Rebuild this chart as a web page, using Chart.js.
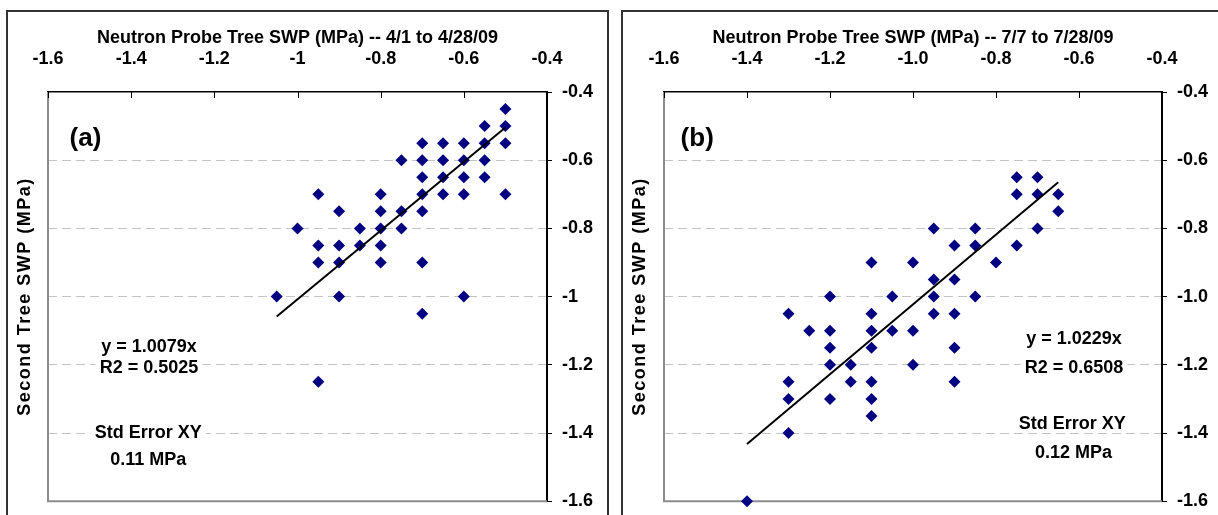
<!DOCTYPE html>
<html>
<head>
<meta charset="utf-8">
<script src="https://cdn.jsdelivr.net/npm/chart.js@4/dist/chart.umd.min.js"></script>
<style>
body{margin:0;background:#fff;width:1218px;height:515px;overflow:hidden;position:relative}
.panel{position:absolute;top:10px;height:540px;border:2px solid #333;box-sizing:border-box}
.wrap{position:absolute;top:0;height:522px}
</style>
</head>
<body>
<div class="panel" style="left:6px;width:603px"></div>
<div class="panel" style="left:621px;width:620px"></div>
<div class="wrap" style="left:0;width:610px"><canvas id="chartA"></canvas></div>
<div class="wrap" style="left:614px;width:604px"><canvas id="chartB"></canvas></div>
<script>
// panel (a): 4/1 to 4/28/09
const probeA  = [-0.5, -0.55, -0.5, -0.7, -0.65, -0.6, -0.55, -0.5, -0.75, -0.7, -0.65, -0.6, -0.55,
                 -0.7, -0.65, -0.6, -0.55, -0.95, -0.8, -0.7, -0.65, -0.6, -0.5, -0.9, -0.8, -0.75, -0.7,
                 -1.0, -0.85, -0.8, -0.75, -0.95, -0.9, -0.85, -0.8, -0.95, -0.9, -0.8, -0.7,
                 -1.05, -0.9, -0.6, -0.7, -0.95];
const secondA = [-0.45, -0.5, -0.5, -0.55, -0.55, -0.55, -0.55, -0.55, -0.6, -0.6, -0.6, -0.6, -0.6,
                 -0.65, -0.65, -0.65, -0.65, -0.7, -0.7, -0.7, -0.7, -0.7, -0.7, -0.75, -0.75, -0.75, -0.75,
                 -0.8, -0.8, -0.8, -0.8, -0.85, -0.85, -0.85, -0.85, -0.9, -0.9, -0.9, -0.9,
                 -1.0, -1.0, -1.0, -1.05, -1.25];
const slopeA = 1.0079;
const fitRangeA = [-1.05, -0.5];
const xTicksA = ['-1.6', '-1.4', '-1.2', '-1', '-0.8', '-0.6', '-0.4'];
const yTicksA = ['-1.6', '-1.4', '-1.2', '-1', '-0.8', '-0.6', '-0.4'];

// panel (b): 7/7 to 7/28/09
const probeB  = [-0.75, -0.7, -0.75, -0.7, -0.65, -0.65, -0.95, -0.85, -0.7, -0.9, -0.85, -0.75,
                 -1.1, -1.0, -0.8, -0.95, -0.9, -1.2, -1.05, -0.95, -0.85, -1.3, -1.1, -0.95, -0.9,
                 -1.25, -1.2, -1.1, -1.05, -1.0, -1.2, -1.1, -0.9, -1.2, -1.15, -1.0,
                 -1.3, -1.15, -1.1, -0.9, -1.3, -1.2, -1.1, -1.1, -1.3, -1.4];
const secondB = [-0.65, -0.65, -0.7, -0.7, -0.7, -0.75, -0.8, -0.8, -0.8, -0.85, -0.85, -0.85,
                 -0.9, -0.9, -0.9, -0.95, -0.95, -1.0, -1.0, -1.0, -1.0, -1.05, -1.05, -1.05, -1.05,
                 -1.1, -1.1, -1.1, -1.1, -1.1, -1.15, -1.15, -1.15, -1.2, -1.2, -1.2,
                 -1.25, -1.25, -1.25, -1.25, -1.3, -1.3, -1.3, -1.35, -1.4, -1.6];
const slopeB = 1.0229;
const fitRangeB = [-1.4, -0.65];
const xTicksB = ['-1.6', '-1.4', '-1.2', '-1.0', '-0.8', '-0.6', '-0.4'];
const yTicksB = ['-1.6', '-1.4', '-1.2', '-1.0', '-0.8', '-0.6', '-0.4'];

const FONT = '"Liberation Sans", Arial, sans-serif';
Chart.defaults.font.family = FONT;
Chart.defaults.font.size = 18;
Chart.defaults.font.weight = 'bold';
Chart.defaults.color = '#000';

function decor(p) {
    return {
        id: 'decor',
        beforeDatasetsDraw(chart) {
            const {ctx, chartArea: a, scales: {x}} = chart;
            ctx.save();
            // gris a la izquierda y abajo
            ctx.strokeStyle = '#8c8c8c';
            ctx.lineWidth = 2;
            ctx.beginPath();
            ctx.moveTo(a.left, a.top);
            ctx.lineTo(a.left, a.bottom);
            ctx.lineTo(a.right, a.bottom);
            ctx.stroke();
            // marcas hacia dentro del eje superior
            ctx.strokeStyle = '#000';
            ctx.lineWidth = 1;
            x.ticks.forEach(t => {
                const px = Math.round(x.getPixelForValue(t.value)) + 0.5;
                ctx.beginPath();
                ctx.moveTo(px, a.top);
                ctx.lineTo(px, a.top + 6);
                ctx.stroke();
            });
            ctx.restore();
        },
        afterDraw(chart) {
            const {ctx, chartArea: a, scales: {x, y}} = chart;
            ctx.save();
            ctx.textAlign = 'center';
            ctx.textBaseline = 'middle';
            // fondo blanco primero, luego el texto
            p.notes.forEach(n => {
                ctx.font = 'bold ' + (n.size || 18) + 'px ' + FONT;
                const w = ctx.measureText(n.text).width;
                ctx.fillStyle = '#fff';
                ctx.fillRect(x.getPixelForValue(n.x) - w / 2 - 4, y.getPixelForValue(n.y) - 6, w + 8, 12);
            });
            ctx.fillStyle = '#000';
            p.notes.forEach(n => {
                ctx.font = 'bold ' + (n.size || 18) + 'px ' + FONT;
                ctx.fillText(n.text, x.getPixelForValue(n.x), y.getPixelForValue(n.y));
            });
            // titulo del eje Y a la izquierda
            ctx.font = 'bold 18px ' + FONT;
            ctx.letterSpacing = '1.5px';
            ctx.translate(p.yTitleX, (a.top + a.bottom) / 2);
            ctx.rotate(-Math.PI / 2);
            ctx.fillText(p.yTitle, 0, 0);
            ctx.restore();
        }
    };
}

function makeChart(id, cfg) {
    const pts = cfg.xs.map((v, i) => ({x: v, y: cfg.ys[i]}));
    const fit = cfg.range.map(v => ({x: v, y: cfg.slope * v}));
    return new Chart(document.getElementById(id), {
        type: 'scatter',
        data: {
            datasets: [{
                data: fit,
                showLine: true,
                borderColor: '#000',
                borderWidth: 2,
                pointRadius: 0
            }, {
                data: pts,
                pointStyle: 'rectRot',
                pointRadius: 6,
                backgroundColor: '#000080',
                borderColor: '#000080',
                borderWidth: 0,
                clip: false
            }]
        },
        options: {
            responsive: true,
            maintainAspectRatio: false,
            animation: false,
            events: [],
            layout: {padding: {left: cfg.padLeft, top: 0, right: 0, bottom: 2}},
            plugins: {legend: {display: false}, tooltip: {enabled: false}},
            scales: {
                x: {
                    type: 'linear',
                    position: 'top',
                    min: -1.6,
                    max: -0.4,
                    ticks: {stepSize: 0.2, padding: 22, maxRotation: 0, autoSkip: false,
                            callback: (v, i) => cfg.xTicks[i]},
                    grid: {color: 'transparent', drawTicks: false},
                    border: {color: '#000', width: 1.5},
                    title: {display: true, text: cfg.title, padding: {top: 27, bottom: 0},
                            font: {size: 18, weight: 'bold'}},
                    afterFit: s => { s.height = 92; }
                },
                y: {
                    type: 'linear',
                    position: 'right',
                    min: -1.6,
                    max: -0.4,
                    ticks: {stepSize: 0.2, padding: 10, callback: (v, i) => cfg.yTicks[i]},
                    grid: {
                        color: c => (c.index === 0 || c.index === 6) ? 'transparent' : '#c4c4c4',
                        tickColor: '#000',
                        tickLength: 5,
                        lineWidth: 1
                    },
                    border: {color: '#000', width: 2, dash: [9, 5]},
                    afterFit: s => { s.width = cfg.axisW; }
                }
            }
        },
        plugins: [decor(cfg)]
    });
}

makeChart('chartA', {
    xs: probeA, ys: secondA, slope: slopeA, range: fitRangeA,
    xTicks: xTicksA, yTicks: yTicksA,
    title: 'Neutron Probe Tree SWP (MPa) -- 4/1 to 4/28/09',
    yTitle: 'Second Tree SWP (MPa)',
    padLeft: 48, axisW: 63, yTitleX: 25,
    notes: [
        {text: '(a)', x: -1.51, y: -0.538, size: 26},
        {text: 'y = 1.0079x', x: -1.357, y: -1.148},
        {text: 'R2 = 0.5025', x: -1.357, y: -1.21},
        {text: 'Std Error XY', x: -1.359, y: -1.401},
        {text: '0.11 MPa', x: -1.359, y: -1.478}
    ]
});

makeChart('chartB', {
    xs: probeB, ys: secondB, slope: slopeB, range: fitRangeB,
    xTicks: xTicksB, yTicks: yTicksB,
    title: 'Neutron Probe Tree SWP (MPa) -- 7/7 to 7/28/09',
    yTitle: 'Second Tree SWP (MPa)',
    padLeft: 50, axisW: 56, yTitleX: 26,
    notes: [
        {text: '(b)', x: -1.52, y: -0.538, size: 26},
        {text: 'y = 1.0229x', x: -0.612, y: -1.123},
        {text: 'R2 = 0.6508', x: -0.612, y: -1.209},
        {text: 'Std Error XY', x: -0.616, y: -1.374},
        {text: '0.12 MPa', x: -0.613, y: -1.459}
    ]
});
</script>
</body>
</html>
